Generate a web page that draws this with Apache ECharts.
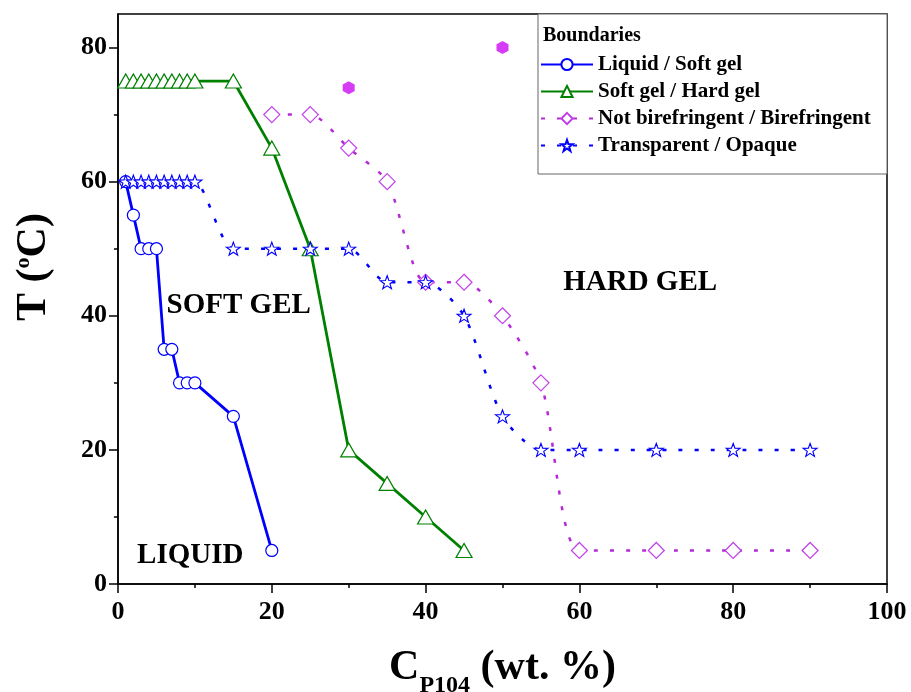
<!DOCTYPE html>
<html>
<head>
<meta charset="utf-8">
<script src="https://cdn.jsdelivr.net/npm/echarts@6/dist/echarts.min.js"></script>
<style>
  html, body { margin: 0; padding: 0; background: #fff; }
  #chart { width: 911px; height: 692px; }
</style>
</head>
<body>
<div id="chart"></div>
<script>
// boundary data (wt. % , °C)
const liquidX = [1, 2, 3, 4, 5, 6, 7, 8, 9, 10, 15, 20];
const liquidY = [60, 55, 50, 50, 50, 35, 35, 30, 30, 30, 25, 5];

const hardX = [1, 2, 3, 4, 5, 6, 7, 8, 9, 10, 15, 20, 25, 30, 35, 40, 45];
const hardY = [75, 75, 75, 75, 75, 75, 75, 75, 75, 75, 75, 65, 50, 20, 15, 10, 5];

const bireX = [20, 25, 30, 35, 40, 45, 50, 55, 60, 70, 80, 90];
const bireY = [70, 70, 65, 60, 45, 45, 40, 30, 5, 5, 5, 5];

const opaqX = [1, 2, 3, 4, 5, 6, 7, 8, 9, 10, 15, 20, 25, 30, 35, 40, 45, 50, 55, 60, 70, 80, 90];
const opaqY = [60, 60, 60, 60, 60, 60, 60, 60, 60, 60, 50, 50, 50, 50, 45, 45, 40, 25, 20, 20, 20, 20, 20];

const extraX = [30, 50];
const extraY = [74, 80];

const regionNames = ['SOFT GEL', 'HARD GEL', 'LIQUID'];
const regionX = [15.7, 67.9, 9.4];
const regionY = [41.6, 45, 4.3];

const xTicks = [0, 20, 40, 60, 80, 100];
const yTicks = [0, 20, 40, 60, 80];
const yMinorTicks = [10, 30, 50, 70];

const seriesNames = ['Liquid / Soft gel', 'Soft gel / Hard gel', 'Not birefringent / Birefringent', 'Transparent / Opaque'];

const FONT = '"Liberation Serif", "Times New Roman", serif';
const BLUE = '#0000ff';
const GREEN = '#008000';
const PURPLE = '#b52ad6';
const HEX = '#d63cf5';

const starPath = 'path://M0,-10L2.35,-3.24L9.51,-3.09L3.8,1.24L5.88,8.09L0,4L-5.88,8.09L-3.8,1.24L-9.51,-3.09L-2.35,-3.24Z';
const hexPath = 'path://M0,-10L8.66,-5L8.66,5L0,10L-8.66,5L-8.66,-5Z';

function zip(xs, ys) {
  return xs.map((x, i) => [x, ys[i]]);
}

const chart = echarts.init(document.getElementById('chart'));

const axisLabelStyle = {
  color: '#000',
  fontFamily: FONT,
  fontWeight: 'bold',
  fontSize: 26
};

const option = {
  animation: false,
  grid: {
    left: 118, right: 24, top: 14, bottom: 108,
    outerBoundsMode: 'none',
    containLabel: false,
    show: true,
    borderColor: '#000',
    borderWidth: 1.5
  },
  xAxis: {
    type: 'value',
    min: 0, max: 100, interval: 20,
    axisLine: { lineStyle: { color: '#000', width: 1.5 } },
    axisTick: { length: 9, lineStyle: { color: '#000', width: 1.5 } },
    minorTick: { show: true, splitNumber: 2, length: 4, lineStyle: { color: '#000', width: 1.5 } },
    splitLine: { show: false },
    axisLabel: Object.assign({ margin: 15, customValues: xTicks }, axisLabelStyle),
    name: '{c|C}{s|P104}{c| (wt. %)}',
    nameLocation: 'middle',
    nameGap: 54,
    nameTextStyle: {
      rich: {
        c: { fontFamily: FONT, fontWeight: 'bold', fontSize: 42, color: '#000', lineHeight: 60 },
        s: { fontFamily: FONT, fontWeight: 'bold', fontSize: 24, color: '#000', lineHeight: 24, verticalAlign: 'bottom' }
      }
    }
  },
  yAxis: [
    {
      type: 'value',
      min: 0, max: 85, interval: 20,
      axisLine: { lineStyle: { color: '#000', width: 1.5 } },
      axisTick: { length: 9, customValues: yTicks, lineStyle: { color: '#000', width: 1.5 } },
      splitLine: { show: false },
      axisLabel: Object.assign({ margin: 11, customValues: yTicks }, axisLabelStyle),
      name: 'T ({o|o}C)',
      nameLocation: 'middle',
      nameRotate: 90,
      nameGap: 62,
      nameTextStyle: {
        fontFamily: FONT, fontWeight: 'bold', fontSize: 42, color: '#000', lineHeight: 44,
        padding: [0, 0, 0, 64],
        rich: {
          o: { fontFamily: FONT, fontWeight: 'bold', fontSize: 22, color: '#000', lineHeight: 44, verticalAlign: 'top', padding: [0, 0, 14, 0] }
        }
      }
    },
    {
      type: 'value',
      min: 0, max: 85,
      position: 'left',
      axisLine: { show: false },
      axisTick: { show: true, length: 4, customValues: yMinorTicks, lineStyle: { color: '#000', width: 1.5 } },
      axisLabel: { show: false },
      splitLine: { show: false }
    }
  ],
  legend: {
    data: seriesNames,
    orient: 'vertical',
    left: 540,
    top: 54,
    padding: 0,
    itemWidth: 52,
    itemHeight: 14,
    itemGap: 6,
    textStyle: { fontFamily: FONT, fontWeight: 'bold', fontSize: 21, color: '#000', lineHeight: 18 }
  },
  graphic: [
    {
      type: 'rect',
      z: 1,
      shape: { x: 538, y: 14, width: 349, height: 160 },
      style: { fill: '#fff', stroke: '#666', lineWidth: 1 }
    },
    {
      type: 'text',
      z: 2,
      left: 543,
      top: 26,
      style: { text: 'Boundaries', fontFamily: FONT, fontWeight: 'bold', fontSize: 20, fill: '#000' }
    }
  ],
  series: [
    {
      name: seriesNames[0],
      type: 'line',
      data: zip(liquidX, liquidY),
      symbol: 'circle',
      symbolSize: 12,
      z: 4,
      lineStyle: { color: BLUE, width: 2.8 },
      itemStyle: { color: '#fff', borderColor: BLUE, borderWidth: 1.2 }
    },
    {
      name: seriesNames[1],
      type: 'line',
      data: zip(hardX, hardY),
      symbol: 'triangle',
      symbolSize: [16, 14],
      z: 3,
      lineStyle: { color: GREEN, width: 2.8 },
      itemStyle: { color: '#fff', borderColor: GREEN, borderWidth: 1.2 }
    },
    {
      name: seriesNames[2],
      type: 'line',
      data: zip(bireX, bireY),
      symbol: 'diamond',
      symbolSize: 16,
      smooth: 0.25,
      z: 3,
      lineStyle: { color: PURPLE, width: 2.5, type: [4, 12] },
      itemStyle: { color: '#fff', borderColor: '#c040e8', borderWidth: 1.2 }
    },
    {
      name: seriesNames[3],
      type: 'line',
      data: zip(opaqX, opaqY),
      symbol: starPath,
      symbolSize: [14, 13],
      smooth: 0.25,
      z: 5,
      lineStyle: { color: BLUE, width: 2.5, type: [4, 12] },
      itemStyle: { color: '#fff', borderColor: BLUE, borderWidth: 1.1 }
    },
    {
      name: 'extra',
      type: 'scatter',
      data: zip(extraX, extraY),
      symbol: hexPath,
      symbolSize: [12, 13],
      itemStyle: { color: HEX, opacity: 1 }
    },
    {
      name: 'regions',
      type: 'scatter',
      silent: true,
      symbolSize: 0,
      itemStyle: { opacity: 1 },
      data: regionNames.map((n, i) => ({ name: n, value: [regionX[i], regionY[i]] })),
      label: {
        show: true,
        position: 'inside',
        formatter: p => p.name,
        fontFamily: FONT,
        fontWeight: 'bold',
        fontSize: 29,
        color: '#000',
        opacity: 1,
        textBorderWidth: 0
      }
    }
  ]
};

chart.setOption(option);
</script>
</body>
</html>
